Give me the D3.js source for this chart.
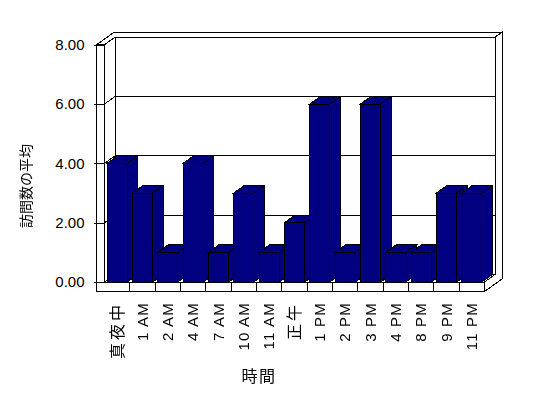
<!DOCTYPE html>
<html><head><meta charset="utf-8">
<script src="https://cdn.jsdelivr.net/npm/d3@7"></script>
<style>
html,body{margin:0;padding:0;background:#fff;}
svg{display:block;}
text{font-family:"Liberation Sans","Noto Sans CJK JP",sans-serif;fill:#000;}
.t{opacity:0.995;}
</style></head>
<body>
<svg id="c" width="548" height="398"></svg>
<script>
const categories = ["真夜中","1 AM","2 AM","4 AM","7 AM","10 AM","11 AM","正午","1 PM","2 PM","3 PM","4 PM","8 PM","9 PM","11 PM"];
const values = [4,3,1,4,1,3,1,2,6,1,6,1,1,3,3];
const yTicks = [0,2,4,6,8];
const yTitle = "訪問数の平均";
const xTitle = "時間";

const svg = d3.select("#c");
const X0 = 104.5, X1 = 484.5, Y0 = 282, YT = 44.7;
const DX = 10.5, DY = 7.5;          // depth of plot
const WX = 17.5, WY = 12.5;         // depth incl. back wall thickness
const LW = 7.8;                     // left wall thickness
const FT = 9.5;                     // floor thickness
const x = d3.scaleBand().domain(categories).range([X0, X1]).paddingInner(0.2).paddingOuter(0.1);
const y = d3.scaleLinear().domain([0, 8]).range([Y0, YT]);
const step = x.step();

const g = svg.append("g").attr("shape-rendering","crispEdges");
const st = s => s.attr("stroke","#000").attr("stroke-width",1);
const poly = (pts, fill) => st(g.append("polygon").attr("points", pts.map(p=>p.join(",")).join(" ")).attr("fill", fill));
const line = (x1,y1,x2,y2) => st(g.append("line").attr("x1",x1).attr("y1",y1).attr("x2",x2).attr("y2",y2));

const yTopV = y(8);
const XL = X0 - LW;
poly([[X0+DX, yTopV-DY],[X1+DX, yTopV-DY],[X1+DX, Y0-DY],[X0+DX, Y0-DY]], "#fff");
poly([[X0, yTopV],[X0+DX, yTopV-DY],[X0+DX, Y0-DY],[X0, Y0]], "#fff");
poly([[XL, yTopV],[X0, yTopV],[X0+DX, yTopV-DY],[X1+DX, yTopV-DY],[X1+WX, yTopV-WY],[XL+WX, yTopV-WY]], "#fff");
poly([[X1+DX, yTopV-DY],[X1+WX, yTopV-WY],[X1+WX, Y0+FT-WY],[X1, Y0+FT],[X1, Y0],[X1+DX, Y0-DY]], "#fff");
poly([[X0, Y0],[X1, Y0],[X1+DX, Y0-DY],[X0+DX, Y0-DY]], "#fff");
poly([[XL, yTopV],[X0, yTopV],[X0, Y0+FT],[XL, Y0+FT]], "#fff");
poly([[XL, Y0],[X1, Y0],[X1, Y0+FT],[XL, Y0+FT]], "#fff");

yTicks.forEach(v => {
  const yy = y(v);
  line(X0, yy, X0+DX, yy-DY);
  line(X0+DX, yy-DY, X1+DX, yy-DY);
});
categories.forEach((c,i) => { if (i>0) { const xx = X0 + i*step; line(xx, Y0, xx, Y0+FT); } });

const ya = svg.append("g").attr("class","t").attr("transform",`translate(${X0},0)`)
  .call(d3.axisLeft(y).tickValues(yTicks).tickFormat(d3.format(".2f")).tickSize(10.5).tickPadding(9.5));
ya.select(".domain").remove();
ya.selectAll("line").attr("stroke","#000").attr("shape-rendering","crispEdges");
ya.selectAll("text").attr("font-size",15).attr("font-family","Liberation Sans").attr("fill","#000");

const bw = x.bandwidth();
categories.forEach((c,i) => {
  const l = x(c), r = l + bw, t = y(values[i]);
  poly([[r, t],[r+DX, t-DY],[r+DX, Y0-DY],[r, Y0]], "#000080");
  poly([[l, t],[r, t],[r+DX, t-DY],[l+DX, t-DY]], "#000080");
  poly([[l, t],[r, t],[r, Y0],[l, Y0]], "#000080");
});

const isCJK = s => /[\u3000-\u9fff]/.test(s);
const tg = svg.append("g").attr("class","t");
tg.append("g").selectAll("text").data(categories).join("text")
  .attr("transform", d => `translate(${x(d)+bw/2},302) rotate(-90)`)
  .attr("text-anchor","end").attr("dy","0.35em")
  .attr("font-size", d => isCJK(d) ? 16 : 15)
  .attr("font-family", d => isCJK(d) ? "Noto Sans CJK JP" : "Liberation Sans")
  .attr("fill","#000")
  .attr("letter-spacing", d => isCJK(d) ? 3 : 1.2)
  .text(d => d);

tg.append("text").attr("transform","translate(26,186) rotate(-90)")
  .attr("text-anchor","middle").attr("dy","0.35em").attr("font-size",14).attr("font-family","Noto Sans CJK JP").attr("fill","#000").text(yTitle);
tg.append("text").attr("x",259).attr("y",376).attr("text-anchor","middle").attr("dy","0.35em")
  .attr("font-size",16).attr("letter-spacing",1.5).attr("font-family","Noto Sans CJK JP").attr("fill","#000").text(xTitle);
</script>
</body></html>
